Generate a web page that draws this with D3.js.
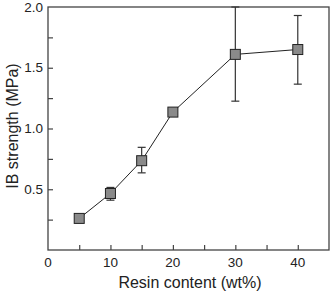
<!DOCTYPE html>
<html>
<head>
<meta charset="utf-8">
<script src="https://cdn.jsdelivr.net/npm/d3@7"></script>
<style>
  body { margin: 0; background: #fff; }
  text { font-family: "Liberation Sans", Arial, sans-serif; fill: #222; }
</style>
</head>
<body>
<svg width="332" height="292"></svg>
<script>
var resin = [5, 10, 15, 20, 30, 40]
var strength = [0.26, 0.465, 0.735, 1.135, 1.61, 1.65]
var errUp = [0, 0.05, 0.11, 0, 0.39, 0.28]
var errDown = [0, 0.055, 0.10, 0, 0.385, 0.285]
var xTicks = [0, 10, 20, 30, 40]
var yTicks = [0.5, 1.0, 1.5, 2.0]

var svg = d3.select('svg')
var plotLeft = 48, plotRight = 329, plotTop = 7, plotBottom = 250

var x = d3.scaleLinear().domain([0, 45]).range([plotLeft, plotRight])
var y = d3.scaleLinear().domain([0, 2]).range([plotBottom, plotTop])

var points = resin.map(function(d, i) {
  return { x: d, y: strength[i], up: errUp[i], down: errDown[i] }
})

// frame
svg.append('rect')
  .attr('x', plotLeft).attr('y', plotTop)
  .attr('width', plotRight - plotLeft).attr('height', plotBottom - plotTop)
  .attr('fill', 'none').attr('stroke', '#444').attr('stroke-width', 1.3)

// inward ticks
svg.append('g').attr('transform', 'translate(0,' + plotBottom + ')')
  .call(d3.axisBottom(x).tickValues(d3.range(5, 45, 5)).tickSize(-5).tickFormat(''))
svg.append('g').attr('transform', 'translate(' + plotLeft + ',0)')
  .call(d3.axisLeft(y).tickValues(d3.range(0.25, 2, 0.25)).tickSize(-5).tickFormat(''))
svg.selectAll('.domain').remove()
svg.selectAll('.tick line').attr('stroke', '#444').attr('stroke-width', 1.2)

// tick labels
svg.selectAll('.xlab').data(xTicks).enter().append('text')
  .attr('x', function(d) { return x(d) })
  .attr('y', 267)
  .attr('text-anchor', 'middle')
  .attr('font-size', 13.5)
  .text(function(d) { return d })

svg.selectAll('.ylab').data(yTicks).enter().append('text')
  .attr('x', 43)
  .attr('y', function(d) { return y(d) + 4.5 })
  .attr('text-anchor', 'end')
  .attr('font-size', 13.5)
  .text(function(d) { return d.toFixed(1) })

svg.append('text')
  .attr('x', 190).attr('y', 288)
  .attr('text-anchor', 'middle')
  .attr('font-size', 16)
  .text('Resin content (wt%)')

svg.append('text')
  .attr('transform', 'translate(18,126) rotate(-90)')
  .attr('text-anchor', 'middle')
  .attr('font-size', 16)
  .text('IB strength (MPa)')

// line
svg.append('path')
  .datum(points)
  .attr('fill', 'none').attr('stroke', '#222').attr('stroke-width', 1)
  .attr('d', d3.line().x(function(d) { return x(d.x) }).y(function(d) { return y(d.y) }))

// error bars
var eb = svg.selectAll('.err').data(points.filter(function(d) { return d.up > 0 }))
  .enter().append('g').attr('stroke', '#333').attr('stroke-width', 1.2)
eb.append('line')
  .attr('x1', function(d) { return x(d.x) }).attr('x2', function(d) { return x(d.x) })
  .attr('y1', function(d) { return y(d.y + d.up) }).attr('y2', function(d) { return y(d.y - d.down) })
eb.append('line')
  .attr('x1', function(d) { return x(d.x) - 4 }).attr('x2', function(d) { return x(d.x) + 4 })
  .attr('y1', function(d) { return y(d.y + d.up) }).attr('y2', function(d) { return y(d.y + d.up) })
eb.append('line')
  .attr('x1', function(d) { return x(d.x) - 4 }).attr('x2', function(d) { return x(d.x) + 4 })
  .attr('y1', function(d) { return y(d.y - d.down) }).attr('y2', function(d) { return y(d.y - d.down) })

// markers
svg.selectAll('.mk').data(points).enter().append('rect')
  .attr('x', function(d) { return x(d.x) - 5 })
  .attr('y', function(d) { return y(d.y) - 5 })
  .attr('width', 10).attr('height', 10)
  .attr('fill', '#8a8a8a').attr('stroke', '#222').attr('stroke-width', 1)
</script>
</body>
</html>
